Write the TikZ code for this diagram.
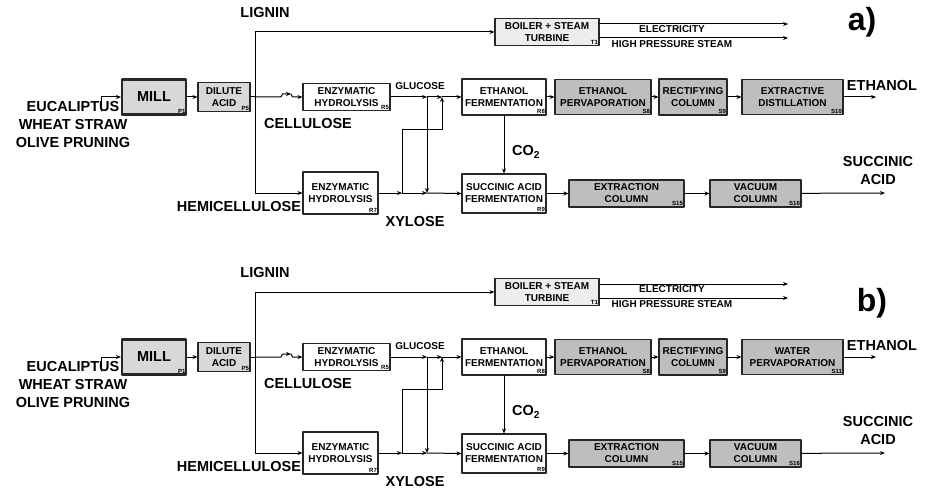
\documentclass[tikz,border=0pt]{standalone}
\usepackage{fontspec}
\setmainfont{Liberation Sans}
\usetikzlibrary{arrows.meta}
\definecolor{millgray}{HTML}{D8D8D8}
\definecolor{boilgray}{HTML}{EDEDED}
\definecolor{sepgray}{HTML}{BEBEBE}
\tikzset{
  unit/.style={draw=black!85, line width=1.1pt, fill=white, align=center, inner sep=1pt,
    font=\fontsize{10}{12}\selectfont\bfseries},
  sepunit/.style={unit, fill=sepgray},
  unitno/.style={label={[tagtxt, anchor=south east]south east:#1}},
  tagtxt/.style={font=\fontsize{6}{6}\selectfont\bfseries, inner sep=1.2pt},
  big/.style={font=\fontsize{14.5}{18}\selectfont\bfseries, align=center, inner sep=0pt},
  small/.style={font=\fontsize{10}{12}\selectfont\bfseries, inner sep=0pt},
}
\begin{document}
\begin{tikzpicture}[x=1pt, y=-1pt, line cap=round, line join=round, line width=1pt,
  >={Stealth[length=5pt,width=4pt]}]
\useasboundingbox (0,0) rectangle (925,492);
\foreach \dy/\pn/\px/\py/\lastA/\lastB/\lastT in
  {0/a/862/22/EXTRACTIVE/DISTILLATION/S10, 260/b/872/43/WATER/PERVAPORATION/S11}{
\begin{scope}[shift={(0,\dy)}]
  % units
  \node[unit, fill=millgray, line width=2.2pt, minimum width=64pt, minimum height=35pt,
    font=\fontsize{14.5}{16}\selectfont\bfseries, unitno=P1] (mill\pn) at (154,97) {MILL};
  \node[unit, fill=millgray, minimum width=52pt, minimum height=29pt, unitno=P5] (dil\pn) at (224,97) {DILUTE\\ACID};
  \node[unit, fill=boilgray, minimum width=104pt, minimum height=27pt, unitno=T1] (boil\pn) at (547,32) {BOILER + STEAM\\TURBINE};
  \node[unit, minimum width=87pt, minimum height=27pt, unitno=R5] (hydC\pn) at (346.5,97) {ENZYMATIC\\HYDROLYSIS};
  \node[unit, minimum width=75pt, minimum height=42pt, unitno=R7] (hydH\pn) at (340.5,193) {ENZYMATIC\\HYDROLYSIS};
  \node[unit, minimum width=84pt, minimum height=36pt, unitno=R8] (fermE\pn) at (504,97) {ETHANOL\\FERMENTATION};
  \node[unit, minimum width=84pt, minimum height=39pt, unitno=R9] (fermS\pn) at (504,193.5) {SUCCINIC ACID\\FERMENTATION};
  \node[sepunit, minimum width=96pt, minimum height=35pt, unitno=S8] (perv\pn) at (603,97) {ETHANOL\\PERVAPORATION};
  \node[sepunit, minimum width=68pt, minimum height=36pt, unitno=S9] (rect\pn) at (693,97) {RECTIFYING\\COLUMN};
  \node[sepunit, minimum width=101pt, minimum height=35pt, unitno=\lastT] (last\pn) at (792.5,97) {\lastA\\\lastB};
  \node[sepunit, minimum width=115pt, minimum height=27pt, unitno=S15] (extr\pn) at (626.5,193.5) {EXTRACTION\\COLUMN};
  \node[sepunit, minimum width=91pt, minimum height=27pt, unitno=S16] (vac\pn) at (755.5,193.5) {VACUUM\\COLUMN};
  % stream labels
  \node[big] (lig\pn) at (265,13) {LIGNIN};
  \node[big] (feedtxt\pn) at (73,125) {EUCALIPTUS\\WHEAT STRAW\\OLIVE PRUNING};
  \node[big] (cel\pn) at (308,124) {CELLULOSE};
  \node[big] (hemi\pn) at (239,207) {HEMICELLULOSE};
  \node[small] (glu\pn) at (420,86) {GLUCOSE};
  \node[big] (xyl\pn) at (415,222) {XYLOSE};
  \node[big] (co\pn) at (526,152) {CO\textsubscript{2}};
  \node[small] (elec\pn) at (672,29) {ELECTRICITY};
  \node[small] (hps\pn) at (672,44) {HIGH PRESSURE STEAM};
  \node[big] (eth\pn) at (882,86) {ETHANOL};
  \node[big] (suc\pn) at (878,171) {SUCCINIC\\ACID};
  \node[font=\fontsize{32}{32}\selectfont\bfseries, inner sep=0pt] (pan\pn) at (\px,\py) {\pn)};
  % stream points
  \coordinate (feed\pn) at (101,111);
  \coordinate (split\pn) at (255,97);
  \coordinate (gA\pn) at (427,97);
  \coordinate (gB\pn) at (442,97);
  \coordinate (xA\pn) at (402,193);
  \coordinate (xB\pn) at (427,193);
  \coordinate (eout\pn) at (876,97);
  \coordinate (sout\pn) at (885,193);
  \coordinate (elout\pn) at (788,24);
  \coordinate (hpout\pn) at (788,38);
  % streams
  \draw[->] (feed\pn) |- (mill\pn.west);
  \draw[->] (mill\pn) -- (dil\pn);
  \draw (dil\pn.east) -- (split\pn);
  \draw[->] (split\pn) |- (boil\pn.west);
  \draw[->] (split\pn) |- (hydH\pn.west);
  \draw[->] (split\pn) -- (281,97) -- (282.5,94) -- (291,94);
  \draw[->] (291,94) -- (292.5,97) -- (hydC\pn.west);
  \draw[->] (hydC\pn.east) -- (gA\pn);
  \draw[->] (gA\pn) -- (gB\pn);
  \draw[->] (gB\pn) -- (fermE\pn.west);
  \draw[->] (hydH\pn.east) -- (xA\pn);
  \draw[->] (xA\pn) -- (xB\pn);
  \draw[->] (xB\pn) -- (fermS\pn.west);
  \draw[->] (gA\pn) -- (xB\pn);
  \draw[->] (xA\pn) |- (442,129) -- (gB\pn);
  \draw[->] (fermE\pn) -- (fermS\pn);
  \draw[->] (fermE\pn) -- (perv\pn);
  \draw[->] (perv\pn) -- (rect\pn);
  \draw[->] (rect\pn) -- (last\pn);
  \draw[->] (last\pn) -- (eout\pn);
  \draw[->] (fermS\pn) -- (extr\pn);
  \draw[->] (extr\pn) -- (vac\pn);
  \draw[->] (vac\pn) -- (sout\pn);
  \draw[->] (boil\pn.east |- elout\pn) -- (elout\pn);
  \draw[->] (boil\pn.east |- hpout\pn) -- (hpout\pn);
\end{scope}
}
\end{tikzpicture}
\end{document}
